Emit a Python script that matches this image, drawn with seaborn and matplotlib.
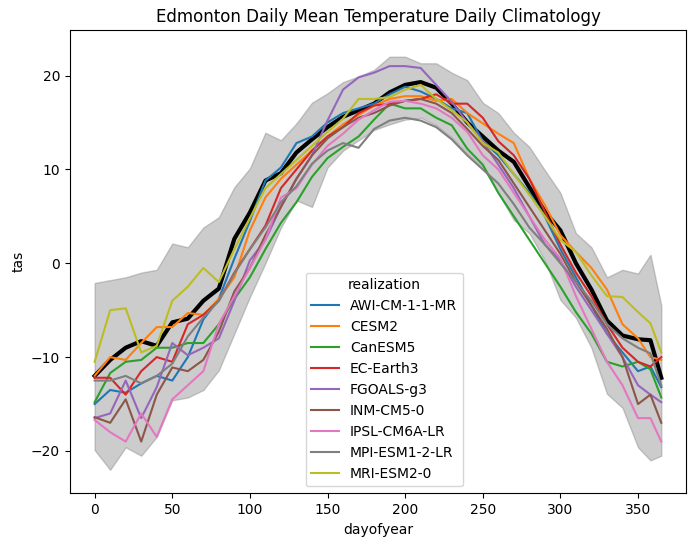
import pandas as pd
import numpy as np
import matplotlib
matplotlib.use('Agg')
import matplotlib.pyplot as plt
import seaborn as sns

days = [0, 10, 20, 30, 40, 50, 60, 70, 80, 90, 100, 110, 120, 130, 140, 150, 160, 170, 180,
        190, 200, 210, 220, 230, 240, 250, 260, 270, 280, 290, 300, 310, 320, 330, 340, 350, 358, 365]

models = ['AWI-CM-1-1-MR', 'CESM2', 'CanESM5', 'EC-Earth3', 'FGOALS-g3',
          'INM-CM5-0', 'IPSL-CM6A-LR', 'MPI-ESM1-2-LR', 'MRI-ESM2-0']

awi = [-15.0, -13.5, -13.8, -12.8, -12.0, -12.5, -10.0, -6.0, -3.8, 0.5, 4.5, 8.8, 10.2, 12.8, 13.5, 15.0, 16.0, 16.5, 17.0,
       18.0, 18.8, 18.3, 17.5, 16.5, 16.0, 13.0, 11.5, 9.5, 7.5, 5.0, 1.5, -1.5, -4.5, -7.5, -9.5, -11.5, -11.0, -13.2]
cesm = [-12.0, -10.0, -10.3, -8.5, -6.8, -6.8, -5.3, -5.5, -3.8, -1.5, 3.5, 7.0, 9.0, 10.5, 12.0, 13.5, 14.8, 15.8, 16.8,
        17.5, 17.8, 17.8, 17.3, 17.5, 16.0, 14.9, 13.8, 12.8, 9.0, 6.2, 3.0, 1.2, -0.5, -2.8, -6.5, -8.0, -10.0, -10.3]
canesm = [-14.8, -11.7, -10.5, -10.3, -9.0, -9.0, -8.5, -8.5, -6.5, -3.8, -1.5, 1.5, 4.3, 6.5, 9.2, 11.2, 12.4, 13.5, 15.3,
          17.0, 16.5, 16.5, 15.5, 14.7, 12.2, 10.5, 7.5, 5.0, 2.5, 0.0, -2.5, -5.2, -7.5, -10.5, -11.0, -10.5, -11.3, -14.3]
ecearth = [-12.2, -12.2, -14.0, -11.5, -10.0, -10.5, -6.5, -5.5, -4.0, -1.0, 1.5, 4.0, 8.0, 10.0, 12.0, 13.5, 14.5, 16.0, 16.8,
           17.0, 17.3, 17.5, 18.0, 17.0, 17.0, 15.5, 13.0, 11.5, 9.0, 5.5, 2.0, -1.0, -3.5, -6.5, -9.0, -10.5, -11.0, -10.0]
fgoals = [-16.5, -16.0, -12.5, -16.5, -13.2, -8.5, -9.8, -9.0, -8.0, -4.0, 0.3, 2.5, 6.0, 9.0, 11.5, 15.2, 18.5, 19.8, 20.3,
          21.0, 21.0, 20.8, 19.0, 17.2, 15.0, 13.0, 10.5, 8.0, 5.0, 2.0, 0.3, -2.5, -5.0, -7.5, -10.0, -13.0, -14.0, -14.8]
inm = [-16.4, -17.0, -14.5, -19.0, -14.0, -11.1, -11.5, -10.3, -7.3, -3.0, -0.5, 3.0, 6.0, 9.0, 11.5, 13.3, 14.5, 15.5, 16.0,
       16.8, 17.3, 17.5, 17.0, 16.0, 14.3, 12.5, 11.0, 8.5, 6.0, 3.5, 1.0, -2.0, -4.5, -7.0, -10.0, -15.0, -14.0, -17.0]
ipsl = [-16.7, -18.0, -19.0, -16.0, -18.5, -14.5, -13.0, -11.5, -6.5, -3.5, -0.5, 2.5, 7.0, 8.0, 10.5, 12.5, 13.8, 15.3, 16.3,
        17.2, 17.3, 17.0, 16.5, 15.5, 14.0, 11.5, 10.0, 7.5, 5.0, 2.5, 0.5, -3.5, -7.0, -10.5, -13.0, -16.5, -16.5, -19.0]
mpi = [-12.5, -12.5, -12.0, -12.8, -12.0, -10.7, -7.8, -5.8, -4.0, -1.1, 1.5, 3.8, 6.5, 8.2, 10.6, 12.0, 12.8, 12.3, 14.3,
       15.2, 15.5, 15.2, 14.5, 13.2, 11.5, 10.0, 8.5, 6.3, 3.8, 2.0, 0.0, -2.0, -4.0, -6.5, -8.0, -9.0, -9.6, -13.0]
mri = [-10.5, -5.0, -4.8, -9.5, -8.8, -4.0, -2.5, -0.5, -2.0, 1.5, 4.8, 8.0, 9.5, 11.0, 12.5, 14.0, 15.4, 17.5, 17.5,
       17.7, 18.5, 19.0, 17.5, 16.3, 15.0, 12.8, 11.8, 9.5, 7.3, 5.0, 2.5, 1.2, -1.3, -3.5, -3.6, -5.2, -6.4, -9.5]

# observed climatology (black) and spread band
obs = [-12.0, -10.3, -9.0, -8.3, -8.8, -6.3, -5.9, -4.0, -2.7, 2.6, 5.4, 8.8, 9.6, 11.8, 13.2, 14.5, 15.6, 16.3, 17.0,
       18.2, 19.0, 19.3, 18.7, 17.0, 15.0, 13.5, 12.0, 10.8, 8.1, 5.5, 3.5, 0.0, -2.8, -6.1, -7.7, -8.1, -8.2, -12.2]
band_hi = [-2.1, -1.8, -1.5, -1.0, -0.7, 2.1, 1.7, 3.8, 4.9, 8.1, 10.1, 13.9, 13.1, 14.9, 17.1, 18.1, 19.3, 19.9, 20.6,
           22.0, 22.0, 21.3, 21.3, 20.3, 19.5, 17.1, 16.0, 13.9, 12.4, 9.9, 7.5, 3.2, 1.7, -1.5, -0.7, -1.1, 0.9, -4.5]
band_lo = [-19.9, -22.0, -19.6, -20.5, -18.5, -14.6, -14.3, -13.5, -11.4, -7.5, -3.6, 0.0, 3.8, 6.7, 6.0, 10.2, 12.0, 13.1, 14.2,
           14.8, 15.3, 15.5, 14.7, 13.4, 11.7, 10.2, 7.5, 4.6, 3.2, 0.3, -3.9, -5.8, -9.0, -13.9, -15.4, -19.6, -21.0, -20.5]

series = [awi, cesm, canesm, ecearth, fgoals, inm, ipsl, mpi, mri]
rows = []
for m, vals in zip(models, series):
    for d, v in zip(days, vals):
        rows.append({'dayofyear': d, 'tas': v, 'realization': m})
df = pd.DataFrame(rows)

fig, ax = plt.subplots(figsize=(6.98, 5.45), dpi=100)
plt.subplots_adjust(left=0.1, right=0.983, top=0.945, bottom=0.095)

ax.fill_between(days, band_lo, band_hi, color='gray', alpha=0.4)
ax.plot(days, obs, color='black', linewidth=3)
sns.lineplot(data=df, x='dayofyear', y='tas', hue='realization', palette='tab10', ax=ax)

ax.set_xlim(-16, 381)
ax.set_ylim(-24.5, 24.85)
ax.set_title('Edmonton Daily Mean Temperature Daily Climatology')
ax.set_xlabel('dayofyear')
ax.set_ylabel('tas')
sns.move_legend(ax, 'lower center', bbox_to_anchor=(0.51, 0.0), title='realization')

plt.savefig('out.png', dpi=100)
